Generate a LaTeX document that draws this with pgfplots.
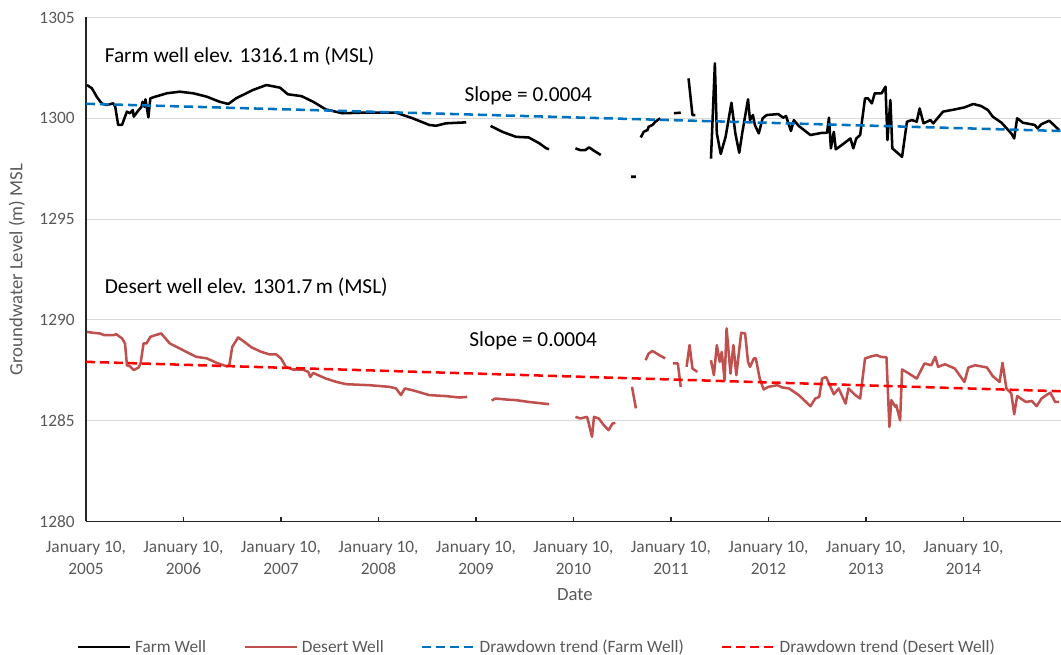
\documentclass[border=0pt]{standalone}
\usepackage{pgfplots}
\pgfplotsset{compat=1.18}
\usepackage{fontspec}
\setmainfont{Carlito}
\definecolor{tickgray}{HTML}{595959}
\definecolor{gridgray}{HTML}{D9D9D9}
\definecolor{desertred}{HTML}{C0504D}
\definecolor{trendblue}{HTML}{0070C0}
\definecolor{trendred}{HTML}{FF0000}
\begin{document}
\begin{tikzpicture}
\path[use as bounding box] (-64.5pt,-100.125pt) rectangle (731.25pt,391.125pt);
\begin{axis}[
  at={(0,0)}, anchor=south west,
  scale only axis, width=731.25pt, height=378pt,
  xmin=2005, xmax=2015, ymin=1280, ymax=1305,
  axis x line=bottom, axis y line=left,
  axis line style={-, line width=1.3pt, black!85},
  xtick={2005,2006,2007,2008,2009,2010,2011,2012,2013,2014},
  xticklabels={{January 10,\\2005},{January 10,\\2006},{January 10,\\2007},{January 10,\\2008},{January 10,\\2009},{January 10,\\2010},{January 10,\\2011},{January 10,\\2012},{January 10,\\2013},{January 10,\\2014}},
  xticklabel style={align=center, font=\fontsize{13}{16.5}\selectfont, text=tickgray, yshift=-11pt},
  ytick={1280,1285,1290,1295,1300,1305},
  yticklabel style={font=\fontsize{13}{15.5}\selectfont, text=tickgray, xshift=-5pt},
  /pgf/number format/1000 sep={},
  /pgf/number format/assume math mode=true,
  tick align=inside,
  major tick length=3.5pt,
  xtick style={line width=1pt, black!85},
  ytick style={draw=none},
  ymajorgrids, grid style={gridgray, line width=0.8pt},
  xlabel={Date}, ylabel={Groundwater Level (m) MSL},
  every axis x label/.style={at={(axis description cs:0.5015,-0.1458)}, anchor=center, font=\fontsize{14}{16}\selectfont, text=tickgray},
  every axis y label/.style={at={(axis description cs:-0.0708,0.5)}, rotate=90, anchor=center, font=\fontsize{14}{16}\selectfont, text=tickgray},
  unbounded coords=jump,
  legend columns=4,
  legend style={at={(0.4626,-0.249)}, anchor=center, draw=none, fill=none,
    font=\fontsize{13}{15.5}\selectfont, text=tickgray,
    /tikz/every odd column/.append style={column sep=1pt},
    /tikz/every even column/.append style={column sep=26pt}},
  legend image code/.code={\draw[#1] (0pt,0pt) -- (39pt,0pt);},
]
% Farm well
\addplot[black, line width=1.9pt, line join=round] coordinates {
(2005.01,1301.65) (2005.06,1301.49) (2005.11,1301.07) (2005.16,1300.74) (2005.21,1300.66)
(2005.28,1300.74) (2005.30,1300.57) (2005.33,1299.67) (2005.37,1299.67) (2005.40,1300.08)
(2005.42,1300.33) (2005.45,1300.25) (2005.48,1300.41) (2005.49,1300.08) (2005.54,1300.41)
(2005.57,1300.57) (2005.58,1300.82) (2005.60,1300.57) (2005.61,1300.94) (2005.64,1300.05)
(2005.66,1300.99) (2005.71,1301.07) (2005.83,1301.24) (2005.96,1301.32) (2006.10,1301.24)
(2006.24,1301.07) (2006.37,1300.82) (2006.46,1300.71) (2006.54,1300.99) (2006.71,1301.40)
(2006.85,1301.65) (2006.99,1301.52) (2007.07,1301.19) (2007.21,1301.10) (2007.33,1300.82)
(2007.46,1300.44) (2007.63,1300.25) (2007.84,1300.28) (2008.18,1300.28) (2008.35,1300.00)
(2008.52,1299.67) (2008.59,1299.63) (2008.69,1299.75) (2008.90,1299.80)
(2009.00,nan)
(2009.15,1299.62) (2009.27,1299.33) (2009.41,1299.08) (2009.54,1299.05) (2009.65,1298.76)
(2009.72,1298.51) (2009.75,1298.47)
(2009.90,nan)
(2010.02,1298.51) (2010.07,1298.42) (2010.12,1298.42) (2010.16,1298.56) (2010.21,1298.39)
(2010.28,1298.18)
(2010.40,nan)
(2010.59,1297.10) (2010.64,1297.10)
(2010.66,nan)
(2010.69,1299.05) (2010.72,1299.33) (2010.76,1299.42) (2010.77,1299.58) (2010.81,1299.67)
(2010.84,1299.83) (2010.89,1300.00)
(2010.95,nan)
(2011.03,1300.25) (2011.10,1300.28)
(2011.14,nan)
(2011.18,1301.98) (2011.22,1300.16) (2011.25,1300.16)
(2011.33,nan)
(2011.41,1298.00) (2011.45,1302.73) (2011.47,1299.25) (2011.51,1298.23) (2011.56,1299.08)
(2011.62,1300.77) (2011.66,1299.25) (2011.70,1298.29) (2011.73,1299.25) (2011.79,1300.94)
(2011.81,1299.91) (2011.84,1300.16) (2011.86,1299.67) (2011.90,1299.25) (2011.94,1300.00)
(2011.98,1300.16) (2012.10,1300.21) (2012.15,1300.03) (2012.18,1300.11) (2012.23,1299.37)
(2012.26,1299.91) (2012.31,1299.62) (2012.43,1299.17) (2012.55,1299.28) (2012.60,1299.28)
(2012.62,1300.03) (2012.64,1298.51) (2012.67,1299.33) (2012.69,1298.46) (2012.75,1298.67)
(2012.84,1299.00) (2012.87,1298.51) (2012.90,1299.00) (2012.94,1299.17) (2012.99,1300.99)
(2013.02,1300.99) (2013.06,1300.74) (2013.09,1301.24) (2013.16,1301.24) (2013.20,1301.57)
(2013.22,1298.92) (2013.25,1300.91) (2013.27,1298.51) (2013.31,1298.34) (2013.37,1298.09)
(2013.42,1299.83) (2013.47,1299.91) (2013.52,1299.83) (2013.55,1300.49) (2013.59,1299.75)
(2013.66,1299.91) (2013.69,1299.75) (2013.79,1300.33) (2013.91,1300.44) (2014.01,1300.54)
(2014.10,1300.71) (2014.18,1300.61) (2014.25,1300.41) (2014.30,1300.08) (2014.39,1299.78)
(2014.49,1299.25) (2014.52,1299.00) (2014.55,1300.00) (2014.61,1299.78) (2014.73,1299.67)
(2014.76,1299.50) (2014.80,1299.71) (2014.88,1299.88) (2014.98,1299.42)
};
\addlegendentry{Farm Well}
% Desert well
\addplot[desertred, line width=1.9pt, line join=round] coordinates {
(2005.01,1289.41) (2005.07,1289.36) (2005.14,1289.33) (2005.19,1289.24) (2005.28,1289.24)
(2005.31,1289.29) (2005.37,1289.08) (2005.40,1288.83) (2005.42,1287.75) (2005.45,1287.70)
(2005.49,1287.51) (2005.54,1287.64) (2005.56,1287.84) (2005.59,1288.83) (2005.62,1288.83)
(2005.66,1289.16) (2005.71,1289.24) (2005.77,1289.33) (2005.83,1289.00) (2005.86,1288.83)
(2005.93,1288.66) (2006.03,1288.41) (2006.13,1288.17) (2006.24,1288.09) (2006.34,1287.87)
(2006.44,1287.70) (2006.47,1287.75) (2006.50,1288.66) (2006.56,1289.13) (2006.61,1288.96)
(2006.70,1288.63) (2006.80,1288.41) (2006.88,1288.29) (2006.95,1288.29) (2007.00,1288.09)
(2007.05,1287.67) (2007.12,1287.54) (2007.22,1287.54) (2007.28,1287.42) (2007.30,1287.17)
(2007.33,1287.37) (2007.46,1287.09) (2007.57,1286.92) (2007.67,1286.81) (2007.91,1286.76)
(2008.11,1286.68) (2008.18,1286.60) (2008.23,1286.27) (2008.27,1286.60) (2008.35,1286.51)
(2008.52,1286.27) (2008.69,1286.22) (2008.83,1286.15) (2008.91,1286.18)
(2009.00,nan)
(2009.16,1286.00) (2009.20,1286.10) (2009.31,1286.05) (2009.41,1286.02) (2009.54,1285.93)
(2009.75,1285.82)
(2009.90,nan)
(2010.02,1285.19) (2010.07,1285.11) (2010.14,1285.19) (2010.19,1284.20) (2010.21,1285.19)
(2010.26,1285.11) (2010.31,1284.78) (2010.36,1284.53) (2010.40,1284.86) (2010.43,1284.89)
(2010.50,nan)
(2010.60,1286.68) (2010.64,1285.61)
(2010.69,nan)
(2010.74,1288.00) (2010.77,1288.33) (2010.81,1288.46) (2010.88,1288.25) (2010.94,1288.09)
(2010.98,nan)
(2011.02,1287.84) (2011.07,1287.84) (2011.10,1286.68)
(2011.13,nan)
(2011.16,1287.67) (2011.19,1288.75) (2011.22,1287.59) (2011.27,1287.42)
(2011.34,nan)
(2011.41,1288.00) (2011.44,1287.26) (2011.47,1288.75) (2011.50,1287.92) (2011.52,1288.41)
(2011.55,1287.01) (2011.57,1289.58) (2011.61,1287.34) (2011.64,1288.75) (2011.67,1287.26)
(2011.72,1289.36) (2011.76,1289.33) (2011.79,1287.92) (2011.81,1287.67) (2011.85,1288.09)
(2011.87,1288.09) (2011.91,1287.09) (2011.95,1286.55) (2012.00,1286.68) (2012.09,1286.76)
(2012.14,1286.65) (2012.21,1286.60) (2012.31,1286.27) (2012.43,1285.72) (2012.48,1286.10)
(2012.52,1286.18) (2012.55,1287.09) (2012.59,1287.17) (2012.62,1286.85) (2012.67,1286.31)
(2012.72,1286.60) (2012.79,1285.85) (2012.82,1286.60) (2012.89,1286.27) (2012.94,1286.10)
(2012.99,1288.09) (2013.06,1288.20) (2013.11,1288.25) (2013.15,1288.17) (2013.21,1288.14)
(2013.24,1284.69) (2013.26,1286.02) (2013.30,1285.69) (2013.31,1285.77) (2013.35,1285.02)
(2013.37,1287.54) (2013.43,1287.37) (2013.52,1287.09) (2013.60,1287.84) (2013.67,1287.75)
(2013.71,1288.17) (2013.74,1287.67) (2013.81,1287.80) (2013.91,1287.59) (2014.01,1286.92)
(2014.05,1287.64) (2014.12,1287.75) (2014.24,1287.64) (2014.30,1287.21) (2014.37,1286.92)
(2014.40,1287.87) (2014.44,1286.60) (2014.49,1286.35) (2014.52,1285.32) (2014.55,1286.22)
(2014.64,1285.93) (2014.70,1285.98) (2014.75,1285.72) (2014.80,1286.10) (2014.85,1286.27)
(2014.89,1286.39) (2014.94,1285.93) (2014.98,1285.93)
};
\addlegendentry{Desert Well}
% Trend lines
\addplot[trendblue, line width=1.9pt, dash pattern=on 6.75pt off 3.75pt] coordinates {
(2005,1300.72) (2015,1299.37)
};
\addlegendentry{Drawdown trend (Farm Well)}
\addplot[trendred, line width=1.9pt, dash pattern=on 6.75pt off 3.75pt] coordinates {
(2005,1287.92) (2015,1286.46)
};
\addlegendentry{Drawdown trend (Desert Well)}
\node[anchor=west, inner sep=0pt, font=\fontsize{16}{19}\selectfont] at (axis cs:2005.19,1303.09) {Farm well elev. 1316.1\,m (MSL)};
\node[anchor=west, inner sep=0pt, font=\fontsize{16}{19}\selectfont] at (axis cs:2005.19,1291.63) {Desert well elev. 1301.7\,m (MSL)};
\node[anchor=west, inner sep=0pt, font=\fontsize{16}{19}\selectfont] at (axis cs:2008.88,1301.10) {Slope = 0.0004};
\node[anchor=west, inner sep=0pt, font=\fontsize{16}{19}\selectfont] at (axis cs:2008.93,1288.95) {Slope = 0.0004};
\end{axis}
\end{tikzpicture}
\end{document}
